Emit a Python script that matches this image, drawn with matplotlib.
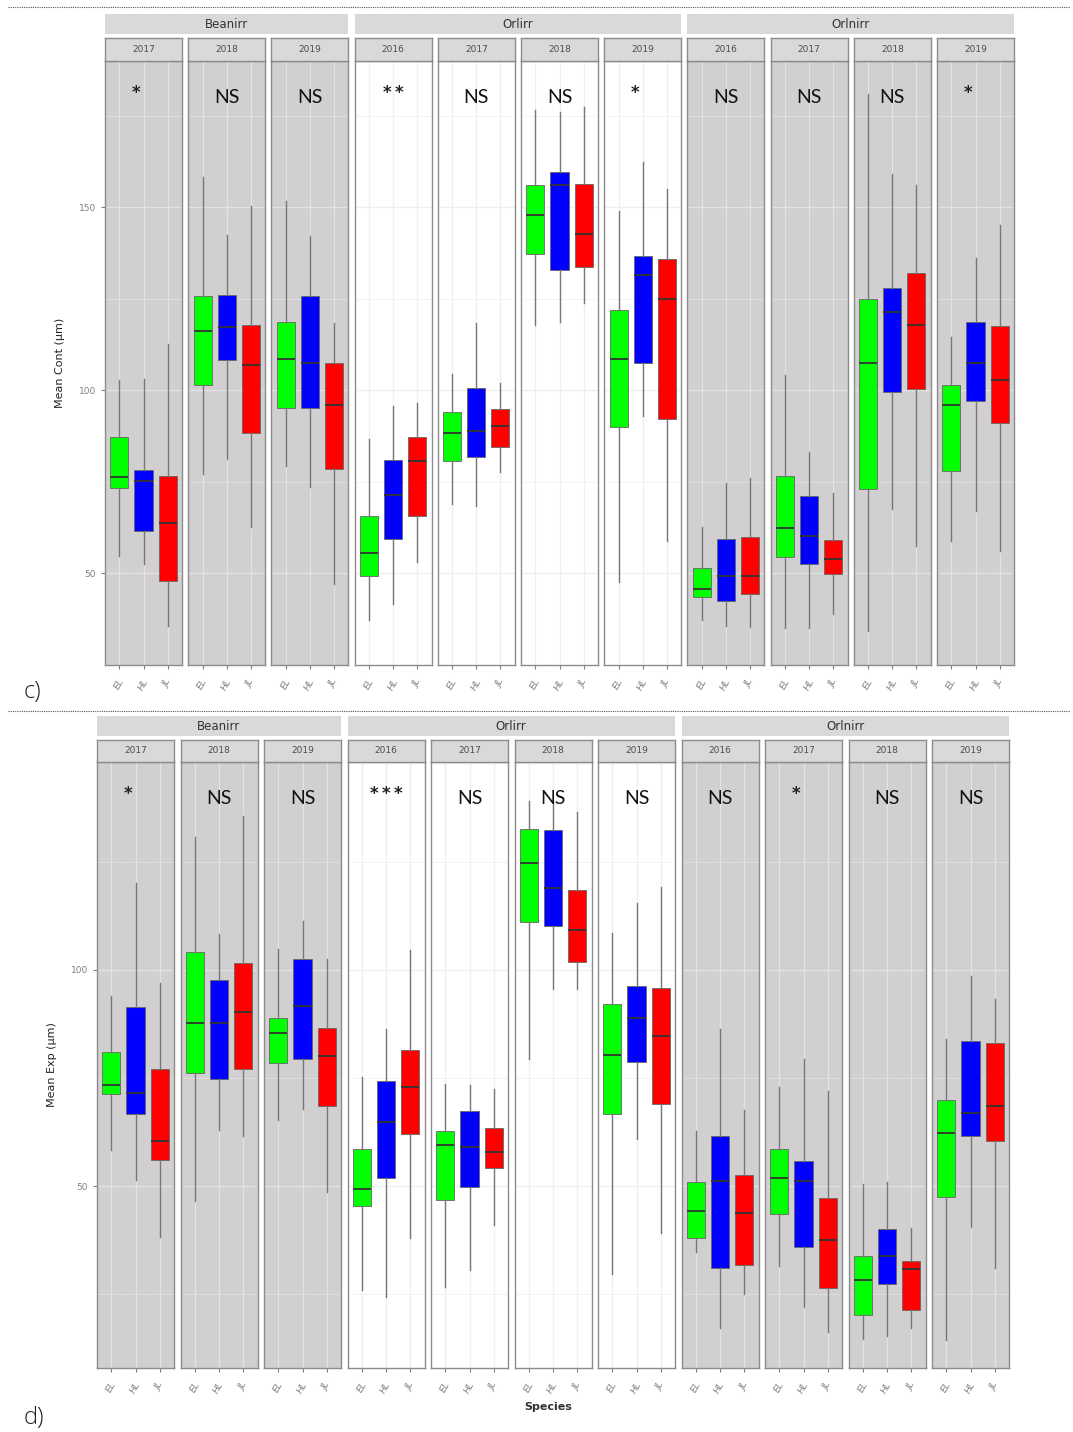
import matplotlib
matplotlib.use("Agg")
import matplotlib.pyplot as plt
from matplotlib.lines import Line2D

species = ["EL", "HL", "JL"]
sites = ["Beanirr", "Orlirr", "Orlnirr"]
site_years = [["2017", "2018", "2019"],
              ["2016", "2017", "2018", "2019"],
              ["2016", "2017", "2018", "2019"]]
box_colors = ["#00FF00", "#0000FF", "#FF0000"]

# panel c) Mean Cont, one row per facet, values for EL, HL, JL
cont_sig = ["*", "NS", "NS", "**", "NS", "NS", "*", "NS", "NS", "NS", "*"]
cont_lo = [[54.8, 52.5, 35.7], [77.1, 81.3, 62.7], [79.4, 73.6, 47.0], [37.2, 41.6, 53.1],
           [69.1, 68.4, 77.8], [117.8, 118.8, 123.8], [47.7, 93.0, 58.8], [37.2, 35.7, 35.5],
           [35.1, 35.1, 38.8], [34.3, 67.7, 57.5], [59.0, 67.1, 56.2]]
cont_q1 = [[73.3, 61.6, 48.0], [101.6, 108.4, 88.5], [95.3, 95.3, 78.6], [49.4, 59.4, 65.8],
           [80.8, 81.9, 84.6], [137.4, 132.9, 133.8], [90.1, 107.6, 92.3], [43.7, 42.6, 44.5],
           [54.5, 52.5, 49.9], [73.2, 99.5, 100.3], [78.0, 97.1, 91.1]]
cont_med = [[76.3, 75.4, 63.9], [116.2, 117.3, 107.0], [108.7, 107.6, 96.0], [55.6, 71.5, 80.6],
            [88.3, 88.8, 90.2], [147.9, 156.1, 142.7], [108.7, 131.6, 124.9], [45.7, 49.4, 49.4],
            [62.3, 60.3, 54.0], [107.5, 121.4, 117.9], [96.0, 107.5, 102.9]]
cont_q3 = [[87.2, 78.2, 76.6], [125.9, 126.2, 118.0], [118.6, 125.8, 107.5], [65.8, 80.9, 87.2],
           [94.2, 100.7, 94.8], [156.0, 159.8, 156.5], [122.1, 136.8, 135.9], [51.5, 59.3, 59.9],
           [76.6, 71.2, 59.2], [124.9, 128.0, 132.1], [101.6, 118.6, 117.6]]
cont_hi = [[102.9, 103.1, 112.6], [158.4, 142.5, 150.5], [151.8, 142.1, 118.3], [86.8, 95.8, 96.7],
           [104.5, 118.3, 102.1], [176.7, 176.2, 177.5], [149.0, 162.3, 155.0], [62.7, 74.7, 76.1],
           [104.3, 83.1, 72.1], [181.1, 159.1, 156.0], [114.6, 136.1, 145.1]]

# panel d) Mean Exp
exp_sig = ["*", "NS", "NS", "***", "NS", "NS", "NS", "NS", "*", "NS", "NS"]
exp_lo = [[58.4, 51.4, 38.2], [46.5, 62.9, 61.6], [65.3, 67.9, 48.6], [26.1, 24.3, 38.0],
          [26.8, 30.6, 41.1], [79.5, 95.6, 95.6], [29.8, 60.9, 39.1], [34.8, 17.3, 25.2],
          [31.5, 22.0, 16.4], [14.7, 15.3, 17.3], [14.5, 40.5, 31.1]]
exp_q1 = [[71.2, 66.6, 56.1], [76.1, 74.7, 77.0], [78.4, 79.5, 68.5], [45.4, 51.8, 62.1],
          [46.9, 49.8, 54.1], [111.1, 110.0, 101.9], [66.6, 78.8, 69.0], [38.0, 31.2, 31.8],
          [43.5, 35.9, 26.5], [20.2, 27.5, 21.4], [47.5, 61.6, 60.5]]
exp_med = [[73.4, 71.6, 60.5], [87.6, 87.6, 90.2], [85.5, 91.6, 80.0], [49.4, 64.8, 72.9],
           [59.6, 59.1, 58.0], [124.7, 118.8, 109.1], [80.3, 88.8, 84.6], [44.3, 51.2, 43.8],
           [51.8, 51.2, 37.5], [28.4, 33.8, 30.9], [62.3, 66.8, 68.5]]
exp_q3 = [[80.9, 91.5, 77.1], [104.1, 97.6, 101.5], [88.9, 102.4, 86.5], [58.5, 74.4, 81.5],
          [62.8, 67.3, 63.4], [132.5, 132.2, 118.4], [92.0, 96.3, 95.7], [50.9, 61.5, 52.7],
          [58.7, 55.8, 47.3], [33.9, 40.0, 32.7], [69.8, 83.5, 83.1]]
exp_hi = [[93.9, 120.0, 97.0], [130.6, 108.2, 135.5], [104.8, 111.3, 102.5], [75.2, 86.4, 104.5],
          [73.6, 73.4, 72.5], [139.1, 139.3, 136.5], [108.5, 115.5, 119.1], [62.7, 86.4, 67.6],
          [72.9, 79.5, 72.1], [50.5, 50.9, 40.3], [84.0, 98.5, 93.3]]

W, H = 1073, 1432
fig = plt.figure(figsize=(W / 100, H / 100), dpi=100)

GREY = "#D1CFD0"
STRIP = "#D9D9D9"
EDGE = "#8C8C8C"


def px_axes(x0, y0, x1, y1):
    return fig.add_axes([x0 / W, 1 - y1 / H, (x1 - x0) / W, (y1 - y0) / H])


def draw_panel(top, x_start, step, ylim, yticks, ylabel, sig, lo, q1, med, q3, hi, species_label=False):
    grp_top, yr_top, pan_top, pan_bot = top
    fw = 77
    idx = 0
    for s, site in enumerate(sites):
        first = idx
        for year in site_years[s]:
            x0 = x_start + idx * step
            bg = "white" if site == "Orlirr" else GREY
            ax = px_axes(x0, pan_top, x0 + fw, pan_bot)
            ax.set_facecolor(bg)
            stats = []
            for k in range(3):
                stats.append(dict(med=med[idx][k], q1=q1[idx][k], q3=q3[idx][k],
                                  whislo=lo[idx][k], whishi=hi[idx][k], fliers=[]))
            bp = ax.bxp(stats, positions=[1, 2, 3], widths=0.75, patch_artist=True,
                        showcaps=False,
                        whiskerprops=dict(color="#777777", lw=1.0),
                        medianprops=dict(color="#333333", lw=1.3),
                        boxprops=dict(edgecolor="#666666", lw=0.6))
            for patch, c in zip(bp["boxes"], box_colors):
                patch.set_facecolor(c)
            ax.set_xlim(0.4, 3.6)
            ax.set_ylim(*ylim)
            gc = "#E4E2E3" if bg == GREY else "#EFEFEF"
            ax.set_yticks(yticks)
            ax.set_yticks([t + 25 for t in [0] + yticks], minor=True)
            ax.grid(True, which="major", color=gc, lw=0.9)
            ax.grid(True, which="minor", axis="y", color=gc, lw=0.5)
            ax.set_axisbelow(True)
            ax.set_xticks([1, 2, 3])
            ax.set_xticklabels(species, rotation=60, fontsize=6.5, color="#7F7F7F",
                               fontstyle="italic")
            ax.tick_params(axis="x", length=3, color="#7F7F7F", pad=6)
            if idx == 0:
                ax.set_yticklabels([str(t) for t in yticks], fontsize=6.5, color="#7F7F7F")
                ax.tick_params(axis="y", which="major", length=3, color="#7F7F7F")
                ax.tick_params(axis="y", which="minor", length=0)
            else:
                ax.tick_params(axis="y", which="both", left=False, labelleft=False)
            for sp in ax.spines.values():
                sp.set_color(EDGE)
                sp.set_linewidth(1.0)
            label = sig[idx]
            if label == "NS":
                ax.text(2.0, 0.94, label, transform=ax.get_xaxis_transform(),
                        ha="center", va="center", fontsize=14, family="Lato", color="#111111")
            else:
                xs = 1.7 if len(label) == 1 else 2.0
                ax.text(xs, 0.947, "\u2009".join(label), transform=ax.get_xaxis_transform(),
                        ha="center", va="center", fontsize=12, fontweight="bold",
                        family="DejaVu Sans", color="#222222")
            # year strip
            sax = px_axes(x0, yr_top, x0 + fw, pan_top)
            sax.set_facecolor(STRIP)
            sax.set_xticks([])
            sax.set_yticks([])
            for sp in sax.spines.values():
                sp.set_color(EDGE)
                sp.set_linewidth(1.0)
            sax.text(0.5, 0.5, year, ha="center", va="center", fontsize=6.5, color="#4D4D4D",
                     transform=sax.transAxes)
            idx += 1
        gx0 = x_start + first * step
        gx1 = x_start + (idx - 1) * step + fw
        gax = px_axes(gx0, grp_top, gx1, grp_top + 20)
        gax.set_facecolor(STRIP)
        gax.set_xticks([])
        gax.set_yticks([])
        for sp in gax.spines.values():
            sp.set_visible(False)
        gax.text(0.5, 0.5, site, ha="center", va="center", fontsize=8.5, color="#333333",
                 transform=gax.transAxes)
    mid = (pan_top + pan_bot) / 2
    fig.text((x_start - 45) / W, 1 - mid / H, ylabel, rotation=90, ha="center", va="center",
             fontsize=8, color="#222222")
    if species_label:
        fig.text(548 / W, 1 - 1407 / H, "Species", ha="center", va="center", fontsize=8,
                 color="#333333", fontweight="bold")


draw_panel((14, 38, 61, 665), 105, 83.2, (27, 190), [50, 100, 150], "Mean Cont (\u00b5m)",
           cont_sig, cont_lo, cont_q1, cont_med, cont_q3, cont_hi)
draw_panel((716, 740, 762, 1368), 97, 83.5, (8, 148), [50, 100], "Mean Exp (\u00b5m)",
           exp_sig, exp_lo, exp_q1, exp_med, exp_q3, exp_hi, species_label=True)

fig.text(32 / W, 1 - 692 / H, "c)", ha="center", va="center", fontsize=17, color="#222222",
         family="Open Sans", fontweight="light")
fig.text(34 / W, 1 - 1418 / H, "d)", ha="center", va="center", fontsize=17, color="#222222",
         family="Open Sans", fontweight="light")

for yy in [7, 711]:
    fig.add_artist(Line2D([8 / W, 1070 / W], [1 - yy / H, 1 - yy / H], transform=fig.transFigure,
                          color="#555555", lw=0.8, ls=(0, (1, 1))))

fig.savefig("out.png", dpi=100)
